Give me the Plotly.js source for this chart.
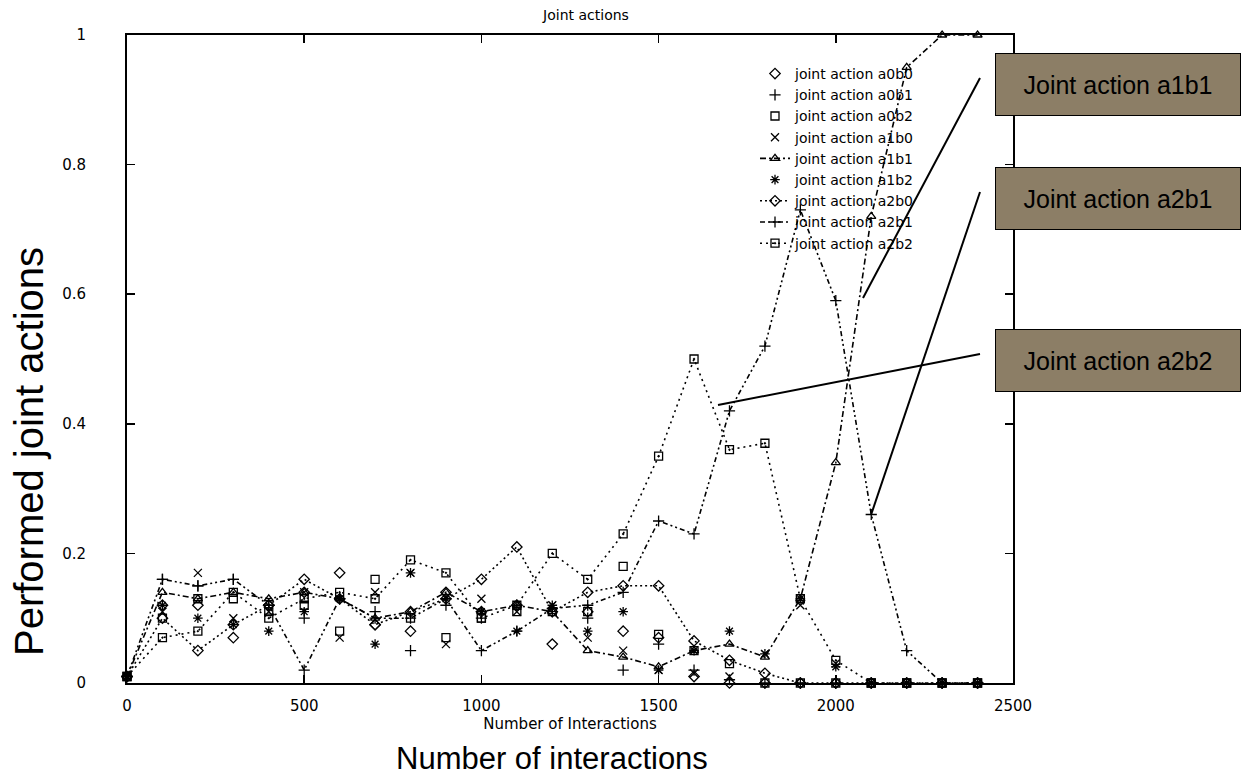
<!DOCTYPE html>
<html>
<head>
<meta charset="utf-8">
<script src="https://cdn.plot.ly/plotly-3.0.1.min.js"></script>
<style>html,body{margin:0;padding:0;background:#fff;}#chart{width:1244px;height:776px;}</style>
</head>
<body>
<div id="chart"></div>
<script>
// ---- data ----
const interactions = [0,100,200,300,400,500,600,700,800,900,1000,1100,1200,1300,1400,1500,1600,1700,1800,1900,2000,2100,2200,2300,2400];
const seriesNames = ['joint action a0b0','joint action a0b1','joint action a0b2','joint action a1b0','joint action a1b1','joint action a1b2','joint action a2b0','joint action a2b1','joint action a2b2'];
const a0b0 = [0.01,0.12,0.12,0.07,0.12,0.14,0.17,0.09,0.08,0.14,0.11,0.12,0.06,0.11,0.08,0.07,0.01,0,0,0,0,0,0,0,0];
const a0b1 = [0.01,0.16,0.15,0.16,0.12,0.10,0.13,0.11,0.05,0.12,0.10,0.12,0.11,0.10,0.02,0.06,0.02,0.005,0,0,0,0,0,0,0];
const a0b2 = [0.01,0.10,0.13,0.13,0.11,0.12,0.08,0.16,0.10,0.07,0.10,0.11,0.11,0.11,0.18,0.075,0.05,0.03,0,0,0,0,0,0,0];
const a1b0 = [0.01,0.11,0.17,0.10,0.11,0.14,0.07,0.14,0.17,0.06,0.13,0.11,0.12,0.07,0.05,0.02,0.015,0.01,0.045,0.12,0.03,0,0,0,0];
const a1b1 = [0.01,0.14,0.13,0.14,0.13,0.14,0.13,0.10,0.11,0.14,0.11,0.12,0.11,0.05,0.04,0.025,0.05,0.06,0.04,0.13,0.34,0.72,0.95,1.0,1.0];
const a1b2 = [0.01,0.12,0.10,0.09,0.08,0.11,0.13,0.06,0.17,0.13,0.11,0.08,0.12,0.08,0.11,0.02,0.05,0.08,0.045,0.13,0.025,0,0,0,0];
const a2b0 = [0.01,0.10,0.05,0.09,0.12,0.16,0.13,0.09,0.11,0.13,0.16,0.21,0.11,0.14,0.15,0.15,0.065,0.035,0.015,0,0,0,0,0,0];
const a2b1 = [0.01,0.16,0.15,0.16,0.12,0.02,0.13,0.10,0.10,0.13,0.05,0.08,0.115,0.12,0.14,0.25,0.23,0.42,0.52,0.73,0.59,0.26,0.05,0,0];
const a2b2 = [0.01,0.07,0.08,0.14,0.10,0.13,0.14,0.13,0.19,0.17,0.10,0.12,0.20,0.16,0.23,0.35,0.50,0.36,0.37,0.13,0.035,0,0,0,0];
const xTicks = [0,500,1000,1500,2000,2500];
const yTicks = [0,0.2,0.4,0.6,0.8,1];
const calloutLabels = ['Joint action a1b1','Joint action a2b1','Joint action a2b2'];

// ---- styles ----
const INK = '#000';
const PLOT_FONT = 'DejaVu Sans, sans-serif';
const SLIDE_FONT = 'Liberation Sans, Arial, sans-serif';
const BOX_FILL = '#8c7e66';

const values = [a0b0,a0b1,a0b2,a1b0,a1b1,a1b2,a2b0,a2b1,a2b2];
const symbols = ['diamond-open','cross-thin-open','square-open','x-thin-open','triangle-up-open','asterisk-open','diamond-open','cross-thin-open','square-open-dot'];
const dashes = [null,null,null,null,'6px,3px,2px,3px',null,'2px,3px','5px,3px,2px,3px,2px,3px','2px,4px'];

const traces = values.map((v,i)=>({
  type:'scatter',
  x: interactions,
  y: v,
  name: seriesNames[i],
  mode: dashes[i] ? 'lines+markers' : 'markers',
  line: dashes[i] ? {color:INK, width:1.6, dash:dashes[i]} : undefined,
  marker: {symbol:symbols[i], size:8, color:INK, line:{color:INK, width:1.3}},
  cliponaxis:false
}));

// helper: pixel -> paper (plot area spans x 127..1013, y 35..683)
const L=127, R=1013, T=35, B=683;
const px = p => (p-L)/(R-L);
const py = p => (B-p)/(B-T);

const boxCentersY = [84.5, 198, 360.5];
const annotations = calloutLabels.map((t,i)=>({
  xref:'paper', yref:'paper', x:px(1118), y:py(boxCentersY[i]),
  xanchor:'center', yanchor:'middle', showarrow:false,
  text:t, font:{family:SLIDE_FONT, size:25, color:INK},
  bgcolor:BOX_FILL, bordercolor:INK, borderwidth:1, borderpad:0,
  width:244, height:61
}));
annotations.push({
  xref:'paper', yref:'paper', x:px(552), y:py(758), xanchor:'center', yanchor:'middle',
  showarrow:false, text:'Number of interactions', font:{family:SLIDE_FONT, size:31, color:INK}
});
annotations.push({
  xref:'paper', yref:'paper', x:px(29), y:py(452), xanchor:'center', yanchor:'middle',
  showarrow:false, textangle:-90, text:'Performed joint actions', font:{family:SLIDE_FONT, size:40, color:INK}
});

const connector = (x0,y0,x1,y1)=>({type:'line', xref:'paper', yref:'paper',
  x0:px(x0), y0:py(y0), x1:px(x1), y1:py(y1), line:{color:INK, width:2}});
const shapes = [
  connector(980,78,863,298),
  connector(980,192,871,515),
  connector(980,354,718,405)
];

const layout = {
  width:1244, height:776,
  margin:{l:L, r:1244-R, t:T, b:776-B, pad:0},
  paper_bgcolor:'#fff', plot_bgcolor:'#fff',
  font:{family:PLOT_FONT, color:INK},
  title:{text:'Joint actions', font:{family:PLOT_FONT, size:14, color:INK},
         xref:'paper', x:px(586), xanchor:'center', yref:'container', y:1-15/776, yanchor:'middle'},
  xaxis:{range:[0,2500], tickvals:xTicks, ticktext:xTicks.map(String), ticks:'inside', ticklen:8, tickwidth:1.5,
         tickcolor:INK, showline:true, linecolor:INK, linewidth:2, mirror:'ticks', showgrid:false, zeroline:false,
         tickfont:{family:PLOT_FONT, size:15, color:INK}, ticklabelstandoff:8, automargin:false,
         title:{text:'Number of Interactions', font:{family:PLOT_FONT, size:15, color:INK}, standoff:2}},
  yaxis:{range:[0,1], tickvals:yTicks, ticktext:yTicks.map(String), ticks:'inside', ticklen:8, tickwidth:1.5,
         tickcolor:INK, showline:true, linecolor:INK, linewidth:2, mirror:'ticks', showgrid:false, zeroline:false,
         tickfont:{family:PLOT_FONT, size:15, color:INK}, ticklabelstandoff:36, automargin:false},
  showlegend:true,
  legend:{x:px(755), y:py(58), xanchor:'left', yanchor:'top', bgcolor:'rgba(0,0,0,0)', borderwidth:0,
          font:{family:PLOT_FONT, size:14, color:INK}, tracegroupgap:0},
  annotations:annotations,
  shapes:shapes
};

Plotly.newPlot('chart', traces, layout, {displayModeBar:false, staticPlot:true});
</script>
</body>
</html>
